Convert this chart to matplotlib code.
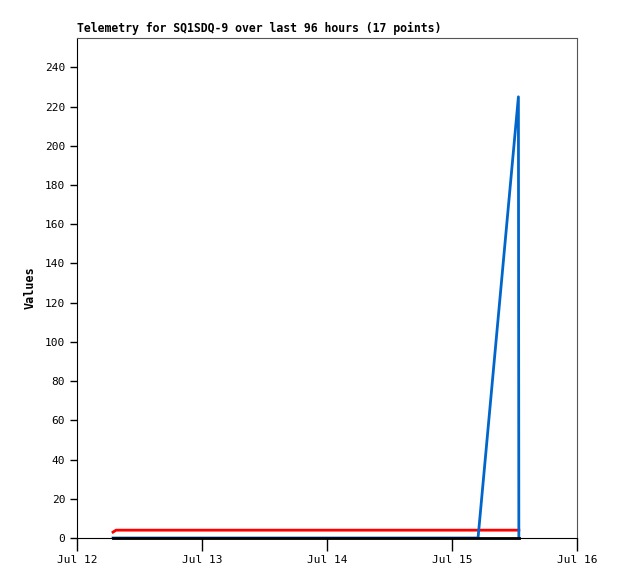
import numpy as np
import pandas as pd
import matplotlib
matplotlib.use("Agg")
import matplotlib.pyplot as plt
import matplotlib.dates as mdates

# 17 telemetry samples
times = pd.to_datetime([
    "2024-07-12 06:55", "2024-07-12 07:30", "2024-07-12 12:00", "2024-07-12 18:00",
    "2024-07-13 00:00", "2024-07-13 06:00", "2024-07-13 12:00", "2024-07-13 18:00",
    "2024-07-14 00:00", "2024-07-14 06:00", "2024-07-14 12:00", "2024-07-14 18:00",
    "2024-07-14 23:00", "2024-07-15 02:00", "2024-07-15 05:00", "2024-07-15 12:45",
    "2024-07-15 12:50",
])
red_vals = [3, 4, 4, 4, 4, 4, 4, 4, 4, 4, 4, 4, 4, 4, 4, 4, 4]
blue_vals = [0, 0, 0, 0, 0, 0, 0, 0, 0, 0, 0, 0, 0, 0, 0, 225, 0]
black_vals = [0] * 17

title = "Telemetry for SQ1SDQ-9 over last 96 hours (17 points)"
font = "DejaVu Sans Mono"

fig = plt.figure(figsize=(6.18, 5.79), dpi=100)
ax = fig.add_axes([77 / 618, 1 - 538 / 579, 500 / 618, 500 / 579])

ax.plot(times, red_vals, color="#ff0000", lw=2)
ax.plot(times, blue_vals, color="#0066cc", lw=2)
ax.plot(times, black_vals, color="black", lw=2, clip_on=False)

ax.set_xlim(pd.Timestamp("2024-07-12"), pd.Timestamp("2024-07-16"))
ax.set_ylim(0, 255)
ax.set_yticks(np.arange(0, 241, 20))
ax.xaxis.set_major_locator(mdates.DayLocator())
ax.xaxis.set_major_formatter(mdates.DateFormatter("%b %d"))

for lab in ax.get_xticklabels() + ax.get_yticklabels():
    lab.set_family(font)
    lab.set_fontsize(8)
ax.tick_params(direction="out", length=5, width=1)
ax.tick_params(axis="x", length=9, pad=3)

for s in ["right", "top"]:
    ax.spines[s].set_color("#555555")

ax.set_ylabel("Values", family=font, fontsize=8.5, fontweight="bold", labelpad=6)
ax.set_title(title, family=font, fontsize=8.3, fontweight="bold", loc="left", pad=4)

fig.savefig("out.png", dpi=100)
